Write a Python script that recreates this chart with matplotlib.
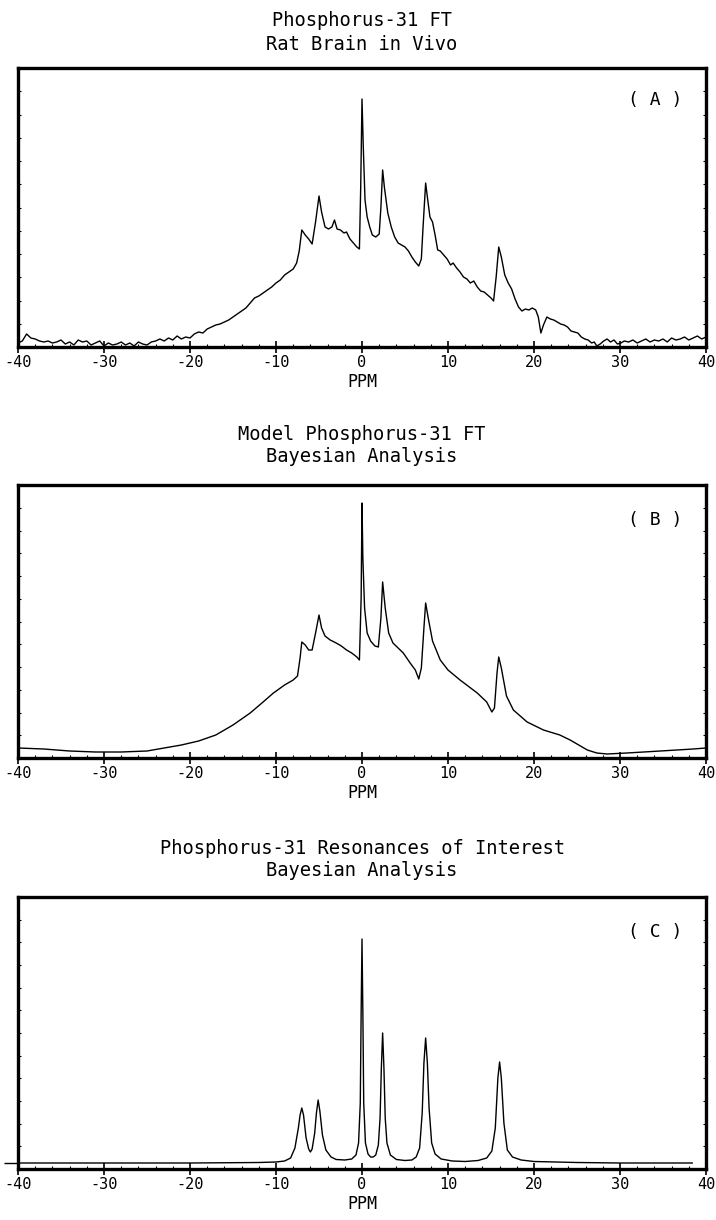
import numpy as np
import matplotlib
matplotlib.use("Agg")
import matplotlib.pyplot as plt

plt.rcParams['font.family'] = ['DejaVu Sans Mono']

# ---- panel A: measured spectrum (ppm, intensity) ----
ppm_a = [-40.0, -39.5, -39.0, -38.5, -38.0, -37.5, -37.0, -36.5, -36.0, -35.5,
         -35.0, -34.5, -34.0, -33.5, -33.0, -32.5, -32.0, -31.5, -31.0, -30.5,
         -30.0, -29.5, -29.0, -28.5, -28.0, -27.5, -27.0, -26.5, -26.0, -25.5,
         -25.0, -24.5, -24.0, -23.5, -23.0, -22.5, -22.0, -21.5, -21.0, -20.5,
         -20.0, -19.5, -19.0, -18.5, -18.0, -17.5, -17.0, -16.5, -16.0, -15.5,
         -15.0, -14.5, -14.0, -13.5, -13.0, -12.5, -12.0, -11.5, -11.0, -10.5,
         -10.0, -9.5, -9.0, -8.5, -8.0, -7.6, -7.3, -7.0, -6.6, -6.2,
         -5.8, -5.4, -5.0, -4.7, -4.3, -3.9, -3.5, -3.2, -2.9, -2.5,
         -2.1, -1.8, -1.4, -1.0, -0.6, -0.3, -0.15, 0.0, 0.15, 0.35,
         0.6, 0.9, 1.2, 1.6, 2.0, 2.2, 2.4, 2.6, 3.0, 3.4,
         3.8, 4.2, 4.6, 5.0, 5.4, 5.8, 6.2, 6.6, 6.9, 7.1,
         7.4, 7.6, 7.9, 8.2, 8.5, 8.8, 9.1, 9.5, 9.9, 10.3,
         10.6, 11.0, 11.4, 11.8, 12.2, 12.6, 13.0, 13.4, 13.8, 14.2,
         14.6, 15.0, 15.3, 15.6, 15.9, 16.2, 16.6, 17.0, 17.4, 17.8,
         18.2, 18.6, 19.0, 19.4, 19.8, 20.2, 20.5, 20.8, 21.1, 21.5,
         21.9, 22.3, 22.7, 23.1, 23.5, 23.9, 24.3, 24.7, 25.1, 25.5,
         25.9, 26.3, 26.7, 27.0, 27.3, 27.7, 28.1, 28.5, 28.9, 29.3,
         29.7, 30.1, 30.5, 31.0, 31.5, 32.0, 32.5, 33.0, 33.5, 34.0,
         34.5, 35.0, 35.5, 36.0, 36.5, 37.0, 37.5, 38.0, 38.5, 39.0,
         39.5, 40.0]
int_a = [4, 6, 13, 9, 8, 6, 5, 6, 4, 5,
         7, 3, 5, 2, 7, 5, 6, 2, 4, 6,
         1, 4, 2, 3, 5, 2, 4, 1, 5, 3,
         2, 5, 6, 8, 6, 9, 7, 11, 8, 10,
         9, 13, 15, 14, 18, 20, 22, 23, 25, 27,
         30, 33, 36, 39, 44, 49, 51, 54, 57, 60,
         64, 67, 72, 75, 78, 84, 96, 117, 112, 108,
         103, 125, 151, 135, 120, 118, 120, 127, 118, 117,
         114, 115, 108, 104, 100, 98, 160, 248, 200, 147,
         130, 120, 112, 110, 113, 140, 177, 160, 134, 120,
         110, 104, 102, 100, 96, 90, 85, 81, 88, 120,
         164, 150, 130, 125, 112, 97, 96, 92, 88, 82,
         84, 79, 75, 70, 68, 64, 66, 60, 56, 55,
         52, 49, 46, 70, 100, 90, 72, 64, 58, 48,
         40, 36, 38, 37, 39, 37, 30, 14, 22, 30,
         28, 27, 25, 23, 22, 20, 16, 15, 14, 10,
         8, 7, 4, 5, 1, 3, 6, 8, 5, 7,
         3, 4, 6, 5, 7, 4, 6, 8, 5, 7,
         6, 8, 5, 9, 7, 8, 10, 7, 9, 11,
         8, 10]

# ---- panel B: model spectrum ----
ppm_b = [-40, -37, -34, -31, -28, -25, -23, -21, -19, -17,
         -15, -13, -11.5, -10.3, -9, -8, -7.5, -7.2, -7.0, -6.6,
         -6.2, -5.8, -5.4, -5.0, -4.7, -4.3, -3.7, -3.0, -2.4, -1.8,
         -1.2, -0.6, -0.3, -0.1, 0.0, 0.1, 0.3, 0.6, 1.0, 1.5,
         1.9, 2.2, 2.4, 2.7, 3.1, 3.6, 4.2, 4.8, 5.6, 6.2,
         6.6, 6.9, 7.2, 7.4, 7.7, 8.2, 9.1, 10.0, 11.4, 13.4,
         14.5, 15.1, 15.4, 15.7, 15.9, 16.2, 16.8, 17.6, 19.2, 21.1,
         23.0, 24.2, 25.2, 26.2, 27.3, 28.5, 30.8, 34.7, 38.5, 40]
int_b = [10, 9, 7, 6, 6, 7, 10, 13, 17, 23,
         33, 45, 56, 65, 73, 78, 82, 100, 116, 113,
         108, 108, 125, 143, 130, 122, 118, 115, 112, 108,
         105, 101, 98, 160, 255, 200, 150, 125, 117, 112,
         111, 140, 176, 150, 125, 115, 110, 105, 95, 88,
         79, 90, 130, 155, 140, 117, 98, 88, 78, 65,
         56, 46, 50, 85, 101, 90, 62, 48, 36, 28,
         23, 18, 13, 8, 5, 4, 5, 7, 9, 10]

# ---- panel C: resonances of interest ----
ppm_c = [-40, -20, -12, -10, -9, -8.3, -7.8, -7.4, -7.2, -7.0,
         -6.8, -6.5, -6.2, -6.0, -5.8, -5.5, -5.3, -5.1, -4.9, -4.6,
         -4.2, -3.6, -3.0, -2.0, -1.2, -0.7, -0.4, -0.2, -0.1, 0.0,
         0.1, 0.2, 0.4, 0.7, 1.0, 1.3, 1.6, 1.9, 2.1, 2.25,
         2.4, 2.55, 2.7, 2.9, 3.3, 4.0, 5.0, 5.8, 6.3, 6.7,
         7.0, 7.2, 7.4, 7.6, 7.8, 8.1, 8.5, 9.2, 10.5, 12.0,
         13.5, 14.5, 15.1, 15.5, 15.8, 16.0, 16.2, 16.5, 16.9, 17.5,
         18.5, 20, 25, 30, 38.4]
int_c = [0, 0, 0.5, 1, 2, 5, 15, 35, 48, 55,
         48, 25, 14, 11, 14, 30, 50, 63, 52, 28,
         13, 6, 3.5, 3, 4, 8, 20, 60, 150, 224,
         150, 60, 20, 9, 6, 6, 8, 18, 45, 95,
         130, 95, 45, 20, 8, 3.5, 2.5, 3, 6, 15,
         50, 100, 125, 100, 55, 20, 9, 4, 2, 1.5,
         2.5, 5, 12, 35, 85, 101, 85, 40, 13, 6,
         3, 1.5, 0.5, 0, 0]

titles = [["Phosphorus-31 FT", "Rat Brain in Vivo"],
          ["Model Phosphorus-31 FT", "Bayesian Analysis"],
          ["Phosphorus-31 Resonances of Interest", "Bayesian Analysis"]]
labels = ["( A )", "( B )", "( C )"]
xticks = [-40, -30, -20, -10, 0, 10, 20, 30, 40]

fig = plt.figure(figsize=(7.16, 12.2), dpi=100)
W, H = 716, 1220

# axes boxes in pixels: (top, bottom)
boxes = [(68, 347), (485, 758), (897, 1169)]
ylims = [(0, 279), (0, 273), (-6, 266)]
title_y = [(21, 45), (435, 457), (849, 871)]
data = [(ppm_a, int_a), (ppm_b, int_b), (ppm_c, int_c)]

for i in range(3):
    top, bot = boxes[i]
    ax = fig.add_axes([18 / W, 1 - bot / H, 688 / W, (bot - top) / H])
    x, y = data[i]
    ax.plot(x, y, color='black', lw=1.0)
    ax.set_xlim(-40, 40)
    ax.set_ylim(*ylims[i])
    ax.set_xticks(xticks)
    ax.set_xticklabels([str(t) for t in xticks], fontsize=11)
    ax.set_xticks(np.arange(-40, 41, 2), minor=True)
    ax.tick_params(axis='x', which='major', direction='inout', length=8, width=1.2, pad=2)
    ax.tick_params(axis='x', which='minor', direction='in', length=2, width=0.8)
    if i == 2:
        ax.set_yticks([0])
        ax.tick_params(axis='y', which='major', direction='out', length=10, width=1.0)
    else:
        ax.set_yticks([])
    ax.set_yticks(np.linspace(ylims[i][0], ylims[i][1], 13)[1:-1], minor=True)
    ax.tick_params(axis='y', which='minor', direction='in', length=2, width=0.8,
                   left=True, right=True)
    ax.set_yticklabels([])
    for s in ax.spines.values():
        s.set_linewidth(2.4)
    ax.set_xlabel("PPM", fontsize=12, labelpad=2)
    ax.text(0.926, 0.885 if i == 0 else 0.87, labels[i], transform=ax.transAxes,
            ha='center', va='center', fontsize=13)
    for line, ty in zip(titles[i], title_y[i]):
        fig.text(362 / W, 1 - ty / H, line, ha='center', va='center', fontsize=13.5)

fig.savefig("out.png", dpi=100)
